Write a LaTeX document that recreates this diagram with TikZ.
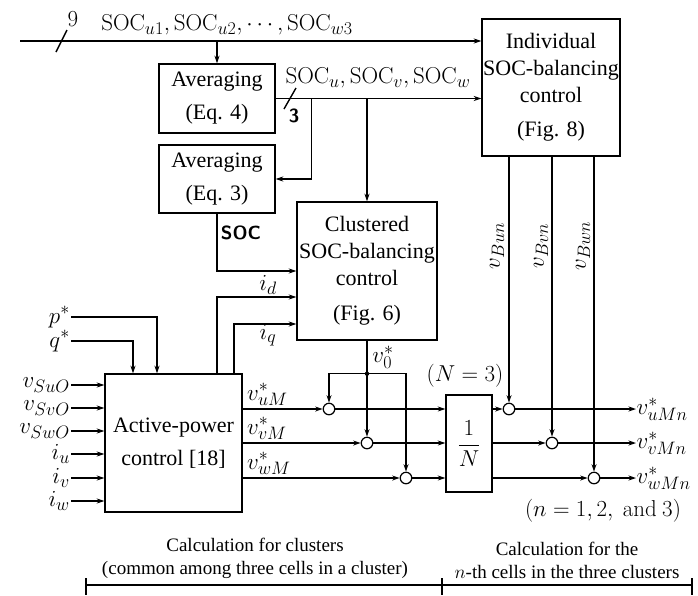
\RequirePackage{fix-cm}
\documentclass[tikz,border=0pt]{standalone}
\usepackage[no-math]{fontspec}
\setmainfont{Liberation Serif}
\usetikzlibrary{arrows.meta}
\DeclareMathSizes{22}{23}{18}{14}
\DeclareMathSizes{19}{19}{14}{11}
\begin{document}
\begin{tikzpicture}[x=1pt,y=-1pt, font=\fontsize{22}{27}\selectfont,
  box/.style={draw, line width=1.4pt, inner sep=0pt, align=center},
  sig/.style={line width=1.4pt},
  arr/.style={sig, -{Stealth[length=7.5pt,width=5pt]}},
  sumc/.style={circle, draw, line width=1.2pt, minimum size=11.5pt, inner sep=0pt},
  lbl/.style={inner sep=1pt},
  boldsf/.style={font=\fontsize{19}{22}\selectfont\sffamily\bfseries},
  bottomtxt/.style={align=center, font=\fontsize{19}{23}\selectfont}]
\useasboundingbox (0,0) rectangle (698,595);

% blocks
\node[box, minimum width=116pt, minimum height=69pt] (avg4) at (217,98.5) {Averaging\\[6pt](Eq. 4)};
\node[box, minimum width=116pt, minimum height=68pt] (avg3) at (217,179) {Averaging\\[6pt](Eq. 3)};
\node[box, minimum width=138pt, minimum height=137pt] (indiv) at (551,87.5) {Individual\\SOC-balancing\\control\\[7pt](Fig. 8)};
\node[box, minimum width=140pt, minimum height=138pt] (clus) at (367,271) {Clustered\\SOC-balancing\\control\\[8pt](Fig. 6)};
\node[box, minimum width=137pt, minimum height=138pt] (apc) at (173.5,443) {Active-power\\[6pt]control [18]};
\node[box, minimum width=46pt, minimum height=97pt] (ninv) at (469,443.5) {$\displaystyle\frac{1}{N}$};

% summing junctions
\node[sumc] (s1) at (329,409) {};
\node[sumc] (s2) at (367,443) {};
\node[sumc] (s3) at (406,478) {};
\node[sumc] (t1) at (509,409) {};
\node[sumc] (t2) at (552,443) {};
\node[sumc] (t3) at (594,478) {};

% top SOC bus
\coordinate (in9) at (20,41);
\draw[arr] (in9) -- (in9 -| indiv.west);
\draw[sig] (56,52) -- (67,30);
\node[lbl] (nine) at (73,19) {$9$};
\node[lbl] (soclab) at (227,25) {$\mathrm{SOC}_{u1},\mathrm{SOC}_{u2},\cdots,\mathrm{SOC}_{w3}$};
\draw[arr] (avg4.north |- in9) -- (avg4.north);

% SOC_u, SOC_v, SOC_w bus
\draw[arr] (avg4.east) -- (avg4.east -| indiv.west);
\draw[sig] (284,109) -- (296,88);
\node[boldsf, inner sep=0pt] (three) at (294,116) {3};
\node[lbl] (soculab) at (378,78) {$\mathrm{SOC}_u,\mathrm{SOC}_v,\mathrm{SOC}_w$};
\coordinate (b1) at ([xshift=36pt]avg4.east);
\draw[arr] (b1) |- (avg3.east);
\draw[arr] (clus.north |- avg4.east) -- (clus.north);

% SOC to clustered
\draw[arr] (avg3.south) |- (clus.west);
\node[boldsf] (soclbl) at (241,233) {SOC};

% id, iq
\coordinate (id0) at ([xshift=43.5pt]apc.north);
\draw[arr] (id0) |- ([yshift=-26pt]clus.west);
\node[lbl] (idl) at (268,285) {$i_d$};
\coordinate (iq0) at ([xshift=60.5pt]apc.north);
\draw[arr] (iq0) |- ([yshift=-53pt]clus.west);
\node[lbl] (iql) at (268,335) {$i_q$};

% p*, q*
\node[lbl, anchor=east] (pst) at (71,317) {$p^*$};
\draw[arr] (pst.east) -| ([xshift=-16.5pt]apc.north);
\node[lbl, anchor=east] (qst) at (71,341) {$q^*$};
\draw[arr] (qst.east) -| ([xshift=-40.5pt]apc.north);

% left inputs
\node[lbl, anchor=east] (lsu) at (71,385) {$v_{SuO}$};
\node[lbl, anchor=east] (lsv) at (71,408) {$v_{SvO}$};
\node[lbl, anchor=east] (lsw) at (71,431) {$v_{SwO}$};
\node[lbl, anchor=east] (liu) at (71,454) {$i_u$};
\node[lbl, anchor=east] (liv) at (71,478) {$i_v$};
\node[lbl, anchor=east] (liw) at (71,501) {$i_w$};
\foreach \n in {lsu,lsv,lsw,liu,liv,liw}
  \draw[arr] (\n.east) -- (\n.east -| apc.west);

% outputs of active-power control
\draw[arr] (apc.east |- s1) -- (s1.west);
\draw[arr] (apc.east |- s2) -- (s2.west);
\draw[arr] (apc.east |- s3) -- (s3.west);
\node[lbl, anchor=south west] (vum) at (246,407) {$v^*_{uM}$};
\node[lbl, anchor=south west] (vvm) at (246,441) {$v^*_{vM}$};
\node[lbl, anchor=south west] (vwm) at (246,476) {$v^*_{wM}$};

\draw[arr] (s1.east) -- (s1 -| ninv.west);
\draw[arr] (s2.east) -- (s2 -| ninv.west);
\draw[arr] (s3.east) -- (s3 -| ninv.west);

% v0*
\coordinate (j0) at ([yshift=-33pt]clus.south);
\draw[arr] (clus.south) -- (s2.north);
\fill (j0) circle (2.2pt);
\draw[arr] (j0) -| (s1.north);
\draw[arr] (j0) -| (s3.north);
\node[lbl] (v0l) at (383,357) {$v_0^*$};
\node[lbl] (nlab) at (465,376) {$(N=3)$};

% after 1/N
\draw[arr] (ninv.east |- t1) -- (t1.west);
\draw[arr] (ninv.east |- t2) -- (t2.west);
\draw[arr] (ninv.east |- t3) -- (t3.west);
\draw[arr] (t1 |- indiv.south) -- (t1.north);
\draw[arr] (t2 |- indiv.south) -- (t2.north);
\draw[arr] (t3 |- indiv.south) -- (t3.north);
\node[lbl, rotate=90] (vbu) at (497,246) {$v_{Bun}$};
\node[lbl, rotate=90] (vbv) at (541,246) {$v_{Bvn}$};
\node[lbl, rotate=90] (vbw) at (583,246) {$v_{Bwn}$};

\node[inner sep=0.5pt, anchor=west] (o1) at (636,409) {$v^*_{uMn}$};
\node[inner sep=0.5pt, anchor=west] (o2) at (636,443) {$v^*_{vMn}$};
\node[inner sep=0.5pt, anchor=west] (o3) at (636,478) {$v^*_{wMn}$};
\draw[arr] (t1.east) -- (o1.west);
\draw[arr] (t2.east) -- (o2.west);
\draw[arr] (t3.east) -- (o3.west);
\node[lbl] (nlist) at (603,511) {$(n=1,2,\mathrm{\ and\ }3)$};

% bottom annotation
\node[bottomtxt] (cl) at (255,558) {Calculation for clusters\\(common among three cells in a cluster)};
\node[bottomtxt] (cr) at (567,560) {Calculation for the\\$n$-th cells in the three clusters};
\coordinate (bl) at (86,585);
\coordinate (bm) at (442,585);
\coordinate (br) at (692,585);
\draw[sig] (bl) -- (br);
\draw[sig] ([yshift=7pt]bl) -- ([yshift=-10pt]bl);
\draw[sig] ([yshift=7pt]bm) -- ([yshift=-10pt]bm);
\draw[sig] ([yshift=7pt]br) -- ([yshift=-10pt]br);
\end{tikzpicture}
\end{document}
